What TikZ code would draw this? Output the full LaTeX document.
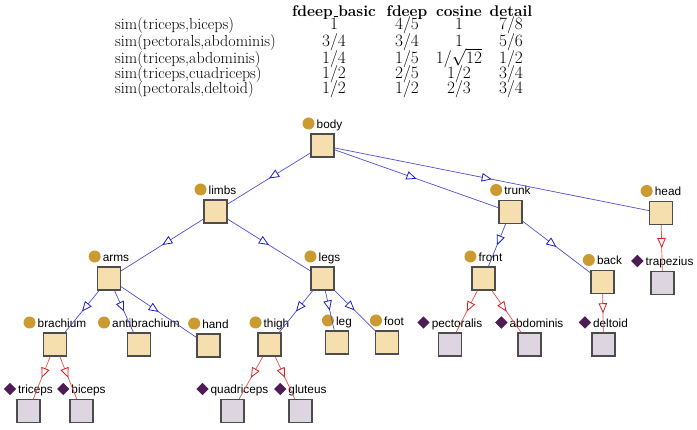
\documentclass[tikz,border=0pt]{standalone}
\usepackage{fontspec}
\newfontfamily\labfont{Liberation Sans}
\usetikzlibrary{arrows.meta,decorations.markings,shapes.geometric}
\definecolor{wheatc}{RGB}{245,223,175}
\definecolor{lavc}{RGB}{221,214,224}
\definecolor{goldc}{RGB}{203,154,48}
\definecolor{purpc}{RGB}{78,28,84}
\definecolor{blueL}{RGB}{80,80,210}
\definecolor{blueD}{RGB}{30,30,200}
\definecolor{redL}{RGB}{232,80,80}
\definecolor{redD}{RGB}{220,30,30}
\tikzset{
  tab/.style={inner sep=0pt, font=\fontsize{16}{18}\selectfont},
  tabh/.style={inner sep=0pt, font=\fontsize{15.5}{18}\selectfont\bfseries},
  concept/.style={rectangle, draw=black!70, line width=1.3pt, fill=wheatc, minimum size=23pt, inner sep=0pt},
  inst/.style={rectangle, draw=black!70, line width=1.3pt, fill=lavc, minimum size=23pt, inner sep=0pt},
  lab/.style={inner sep=0pt, font=\labfont\fontsize{11.8}{14}\selectfont},
  cicon/.style={circle, fill=goldc, minimum size=12pt, inner sep=0pt},
  dicon/.style={diamond, fill=purpc, minimum size=12.5pt, inner sep=0pt},
  isa/.style={draw=blueL, line width=0.7pt, postaction={decorate},
    decoration={markings, mark=at position 0.5 with {\arrow{Triangle[length=10pt,width=8.5pt,color=blueD,fill=white,line width=0.8pt]}}}},
  hasi/.style={draw=redL, line width=0.7pt, postaction={decorate},
    decoration={markings, mark=at position 0.5 with {\arrow{Triangle[length=10pt,width=8.5pt,color=redD,fill=white,line width=0.8pt]}}}}
}
\newcommand\mknode[6]{%
  \node[#5] (#1) at (#2,#3) {};
  \node[lab, anchor=base] (#1-l) at ([xshift=7pt,yshift=17pt]#1.center) {#4};
  \node[#6] (#1-i) at ([xshift=-8pt,yshift=5pt]#1-l.base west) {};
}
\newcommand\usc{\kern.06em\rule{0.3em}{0.6pt}}
\begin{document}
\begin{tikzpicture}[x=1pt,y=-1pt]
\fill[white] (0,0) rectangle (697,430);
\useasboundingbox (0,0) rectangle (697,430);
% table
\node[tabh, anchor=base] (h1) at (334,16.5) {fdeep\usc basic};
\node[tabh, anchor=base] (h2) at (407,16.5) {fdeep};
\node[tabh, anchor=base] (h3) at (459,16.5) {cosine};
\node[tabh, anchor=base] (h4) at (511,16.5) {detail};
\node[tab, anchor=base west] (r1) at (115,29.5) {sim(triceps,biceps)};
\node[tab, anchor=base west] (r2) at (115,46.5) {sim(pectorals,abdominis)};
\node[tab, anchor=base west] (r3) at (115,63.5) {sim(triceps,abdominis)};
\node[tab, anchor=base west] (r4) at (115,78.5) {sim(triceps,cuadriceps)};
\node[tab, anchor=base west] (r5) at (115,93.5) {sim(pectorals,deltoid)};
\node[tab, anchor=base] (v11) at (334,29.5) {$1$};
\node[tab, anchor=base] (v12) at (407,29.5) {$4/5$};
\node[tab, anchor=base] (v13) at (459,29.5) {$1$};
\node[tab, anchor=base] (v14) at (511,29.5) {$7/8$};
\node[tab, anchor=base] (v21) at (334,46.5) {$3/4$};
\node[tab, anchor=base] (v22) at (407,46.5) {$3/4$};
\node[tab, anchor=base] (v23) at (459,46.5) {$1$};
\node[tab, anchor=base] (v24) at (511,46.5) {$5/6$};
\node[tab, anchor=base] (v31) at (334,63.5) {$1/4$};
\node[tab, anchor=base] (v32) at (407,63.5) {$1/5$};
\node[tab, anchor=base] (v33) at (459,63.5) {$1/\sqrt{12}$};
\node[tab, anchor=base] (v34) at (511,63.5) {$1/2$};
\node[tab, anchor=base] (v41) at (334,78.5) {$1/2$};
\node[tab, anchor=base] (v42) at (407,78.5) {$2/5$};
\node[tab, anchor=base] (v43) at (459,78.5) {$1/2$};
\node[tab, anchor=base] (v44) at (511,78.5) {$3/4$};
\node[tab, anchor=base] (v51) at (334,93.5) {$1/2$};
\node[tab, anchor=base] (v52) at (407,93.5) {$1/2$};
\node[tab, anchor=base] (v53) at (459,93.5) {$2/3$};
\node[tab, anchor=base] (v54) at (511,93.5) {$3/4$};
% tree nodes
\mknode{body}{322.5}{145.5}{body}{concept}{cicon}
\mknode{limbs}{215.5}{211.5}{limbs}{concept}{cicon}
\mknode{trunk}{510.5}{212}{trunk}{concept}{cicon}
\mknode{head}{661}{213}{head}{concept}{cicon}
\mknode{arms}{109}{278.5}{arms}{concept}{cicon}
\mknode{legs}{322.5}{278.5}{legs}{concept}{cicon}
\mknode{front}{483.5}{278.5}{front}{concept}{cicon}
\mknode{back}{602.5}{282}{back}{concept}{cicon}
\mknode{trapezius}{662.5}{283}{trapezius}{inst}{dicon}
\mknode{brachium}{55}{344.5}{brachium}{concept}{cicon}
\mknode{antibrachium}{139}{344.5}{antibrachium}{concept}{cicon}
\mknode{hand}{208.5}{345.5}{hand}{concept}{cicon}
\mknode{thigh}{269.5}{344.5}{thigh}{concept}{cicon}
\mknode{leg}{337}{342.5}{leg}{concept}{cicon}
\mknode{foot}{387}{342.5}{foot}{concept}{cicon}
\mknode{pectoralis}{450}{344.5}{pectoralis}{inst}{dicon}
\mknode{abdominis}{529.5}{344.5}{abdominis}{inst}{dicon}
\mknode{deltoid}{603.5}{344.5}{deltoid}{inst}{dicon}
\mknode{triceps}{28.5}{411}{triceps}{inst}{dicon}
\mknode{biceps}{81.5}{411}{biceps}{inst}{dicon}
\mknode{quadriceps}{232.5}{411}{quadriceps}{inst}{dicon}
\mknode{gluteus}{300.5}{411}{gluteus}{inst}{dicon}
% edges
\draw[isa] (body) -- (limbs);
\draw[isa] (body) -- (trunk);
\draw[isa] (body) -- (head);
\draw[isa] (limbs) -- (arms);
\draw[isa] (limbs) -- (legs);
\draw[isa] (arms) -- (brachium);
\draw[isa] (arms) -- (antibrachium);
\draw[isa] (arms) -- (hand);
\draw[isa] (legs) -- (thigh);
\draw[isa] (legs) -- (leg);
\draw[isa] (legs) -- (foot);
\draw[isa] (trunk) -- (front);
\draw[isa] (trunk) -- (back);
\draw[hasi] (brachium) -- (triceps);
\draw[hasi] (brachium) -- (biceps);
\draw[hasi] (thigh) -- (quadriceps);
\draw[hasi] (thigh) -- (gluteus);
\draw[hasi] (front) -- (pectoralis);
\draw[hasi] (front) -- (abdominis);
\draw[hasi] (back) -- (deltoid);
\draw[hasi] (head) -- (trapezius);
\end{tikzpicture}
\end{document}
